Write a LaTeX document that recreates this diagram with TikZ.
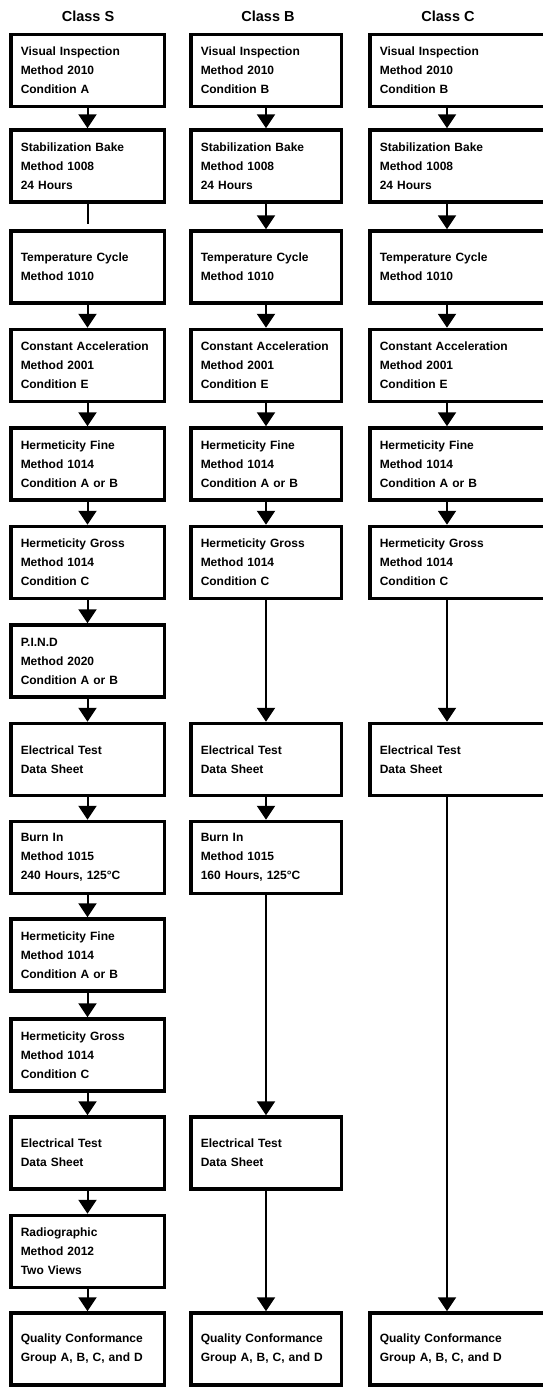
\documentclass[tikz,border=0pt]{standalone}
\usepackage{fontspec}
\setmainfont{Liberation Sans}
\usetikzlibrary{arrows.meta}

\begin{document}
\begin{tikzpicture}[x=1pt,y=-1pt,
  box/.style={draw,line width=3.5pt,rectangle,inner xsep=10pt,inner ysep=0pt,minimum height=72pt,align=left,font=\fontsize{12}{19}\selectfont\bfseries},
  sbox/.style={box,minimum width=153.5pt,text width=133.5pt},
  bbox/.style={box,minimum width=150.5pt,text width=130.5pt},
  cbox/.style={box,minimum width=200pt,text width=180pt},
  head/.style={font=\fontsize{14.5}{17}\selectfont\bfseries},
  arr/.style={line width=2pt,-{Triangle[width=18pt,length=14pt]}},
  ln/.style={line width=2pt}]
\path[use as bounding box,fill=white] (0,0) rectangle (542,1387);
\node[head] (hs) at (88,16) {Class S};
\node[head] (hb) at (268,16) {Class B};
\node[head] (hc) at (448,16) {Class C};
\coordinate (cx) at (447,0);
% Class S
\node[sbox] (s1) at (87.5,70.5) {Visual Inspection\\Method 2010\\Condition A};
\node[sbox] (s2) at (87.5,166) {Stabilization Bake\\Method 1008\\24 Hours};
\node[sbox] (s3) at (87.5,267) {Temperature Cycle\\Method 1010};
\node[sbox] (s4) at (87.5,365.5) {Constant Acceleration\\Method 2001\\Condition E};
\node[sbox] (s5) at (87.5,464) {Hermeticity Fine\\Method 1014\\Condition A or B};
\node[sbox] (s6) at (87.5,562.5) {Hermeticity Gross\\Method 1014\\Condition C};
\node[sbox] (s7) at (87.5,661) {P.I.N.D\\Method 2020\\Condition A or B};
\node[sbox] (s8) at (87.5,759.5) {Electrical Test\\Data Sheet};
\node[sbox] (s9) at (87.5,857.5) {Burn In\\Method 1015\\240 Hours, 125°C};
\node[sbox] (s10) at (87.5,955) {Hermeticity Fine\\Method 1014\\Condition A or B};
\node[sbox] (s11) at (87.5,1055) {Hermeticity Gross\\Method 1014\\Condition C};
\node[sbox] (s12) at (87.5,1153) {Electrical Test\\Data Sheet};
\node[sbox] (s13) at (87.5,1251.5) {Radiographic\\Method 2012\\Two Views};
\node[sbox] (s14) at (87.5,1349) {Quality Conformance\\Group A, B, C, and D};
% Class B
\node[bbox] (b1) at (266,70.5) {Visual Inspection\\Method 2010\\Condition B};
\node[bbox] (b2) at (266,166) {Stabilization Bake\\Method 1008\\24 Hours};
\node[bbox] (b3) at (266,267) {Temperature Cycle\\Method 1010};
\node[bbox] (b4) at (266,365.5) {Constant Acceleration\\Method 2001\\Condition E};
\node[bbox] (b5) at (266,464) {Hermeticity Fine\\Method 1014\\Condition A or B};
\node[bbox] (b6) at (266,562.5) {Hermeticity Gross\\Method 1014\\Condition C};
\node[bbox] (b8) at (266,759.5) {Electrical Test\\Data Sheet};
\node[bbox] (b9) at (266,857.5) {Burn In\\Method 1015\\160 Hours, 125°C};
\node[bbox] (b12) at (266,1153) {Electrical Test\\Data Sheet};
\node[bbox] (b14) at (266,1349) {Quality Conformance\\Group A, B, C, and D};
% Class C
\node[cbox] (c1) at (469.75,70.5) {Visual Inspection\\Method 2010\\Condition B};
\node[cbox] (c2) at (469.75,166) {Stabilization Bake\\Method 1008\\24 Hours};
\node[cbox] (c3) at (469.75,267) {Temperature Cycle\\Method 1010};
\node[cbox] (c4) at (469.75,365.5) {Constant Acceleration\\Method 2001\\Condition E};
\node[cbox] (c5) at (469.75,464) {Hermeticity Fine\\Method 1014\\Condition A or B};
\node[cbox] (c6) at (469.75,562.5) {Hermeticity Gross\\Method 1014\\Condition C};
\node[cbox] (c8) at (469.75,759.5) {Electrical Test\\Data Sheet};
\node[cbox] (c14) at (469.75,1349) {Quality Conformance\\Group A, B, C, and D};
% arrows
\draw[arr] (s1) -- (s2);
\draw[ln,shorten >=5pt] (s2) -- (s3);
\draw[arr] (s3) -- (s4);
\draw[arr] (s4) -- (s5);
\draw[arr] (s5) -- (s6);
\draw[arr] (s6) -- (s7);
\draw[arr] (s7) -- (s8);
\draw[arr] (s8) -- (s9);
\draw[arr] (s9) -- (s10);
\draw[arr] (s10) -- (s11);
\draw[arr] (s11) -- (s12);
\draw[arr] (s12) -- (s13);
\draw[arr] (s13) -- (s14);
\draw[arr] (b1) -- (b2);
\draw[arr] (b2) -- (b3);
\draw[arr] (b3) -- (b4);
\draw[arr] (b4) -- (b5);
\draw[arr] (b5) -- (b6);
\draw[arr] (b6) -- (b8);
\draw[arr] (b8) -- (b9);
\draw[arr] (b9) -- (b12);
\draw[arr] (b12) -- (b14);
\draw[arr] (c1.south -| cx) -- (c2.north -| cx);
\draw[arr] (c2.south -| cx) -- (c3.north -| cx);
\draw[arr] (c3.south -| cx) -- (c4.north -| cx);
\draw[arr] (c4.south -| cx) -- (c5.north -| cx);
\draw[arr] (c5.south -| cx) -- (c6.north -| cx);
\draw[arr] (c6.south -| cx) -- (c8.north -| cx);
\draw[arr] (c8.south -| cx) -- (c14.north -| cx);
\end{tikzpicture}
\end{document}
